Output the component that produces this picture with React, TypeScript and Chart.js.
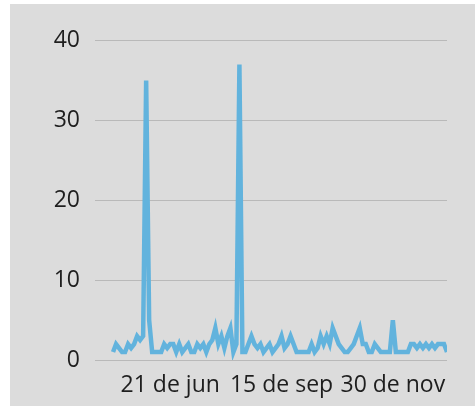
import React, { useEffect, useRef } from "react";
import { Chart, registerables } from "chart.js";

Chart.register(...registerables);

// Daily counts
const values: number[] = [
  1, 2, 1.5, 1, 1, 2, 1.5, 2, 3, 2.5,
  3, 35, 5, 1, 1, 1, 1, 2, 1.5, 2,
  2, 1, 2, 1, 1.5, 2, 1, 1, 2, 1.5,
  2, 1, 2, 2.5, 4, 2, 3, 1.5, 3, 4,
  1, 2, 37, 1, 1, 2, 3, 2, 1.5, 2,
  1, 1.5, 2, 1, 1.5, 2, 3, 1.5, 2, 3,
  2, 1, 1, 1, 1, 1, 2, 1, 1.5, 3,
  2, 3, 2, 4, 3, 2, 1.5, 1, 1, 1.5,
  2, 3, 4, 2, 2, 1, 1, 2, 1.5, 1,
  1, 1, 1, 5, 1, 1, 1, 1, 1, 2,
  2, 1.5, 2, 1.5, 2, 1.5, 2, 1.5, 2, 2,
  2, 1,
];

// Positions (point index) of the labelled days and their labels
const tickIndices: number[] = [19, 56, 93];
const tickLabels: string[] = ["21 de jun", "15 de sep", "30 de nov"];

const yTicks: number[] = [0, 10, 20, 30, 40];

const FONT = "'Open Sans', 'Noto Sans', sans-serif";

export default function App() {
  const ref = useRef<HTMLCanvasElement>(null);

  useEffect(() => {
    if (!ref.current) return;
    const chart = new Chart(ref.current, {
      type: "line",
      data: {
        datasets: [
          {
            data: values.map((v, i) => ({ x: i, y: v })),
            borderColor: "#62b3dd",
            borderWidth: 4.5,
            pointRadius: 0,
            tension: 0,
            fill: false,
          },
        ],
      },
      options: {
        animation: false,
        responsive: false,
        layout: { padding: { left: 0, right: 28, top: 36.7, bottom: 0 } },
        plugins: { legend: { display: false }, tooltip: { enabled: false } },
        scales: {
          x: {
            type: "linear",
            min: -6,
            max: values.length - 1,
            grid: { display: false, drawTicks: false },
            border: { display: false },
            afterBuildTicks: (scale: any) => {
              scale.ticks = tickIndices.map((v) => ({ value: v }));
            },
            afterFit: (scale: any) => {
              scale.height = 46;
            },
            ticks: {
              autoSkip: false,
              maxRotation: 0,
              padding: 12,
              color: "#1e1e1e",
              font: { family: FONT, size: 23 },
              callback: (v: any) => {
                const k = tickIndices.indexOf(Number(v));
                return k >= 0 ? tickLabels[k] : "";
              },
            },
          },
          y: {
            min: 0,
            max: 40,
            afterBuildTicks: (scale: any) => {
              scale.ticks = yTicks.map((v) => ({ value: v }));
            },
            afterFit: (scale: any) => {
              scale.width = 85;
            },
            grid: { color: "#b9b9b9", lineWidth: 1, drawTicks: false },
            border: { display: false },
            ticks: {
              padding: 15,
              color: "#1e1e1e",
              font: { family: FONT, size: 23 },
            },
          },
        },
      },
    });
    return () => chart.destroy();
  }, []);

  return (
    <div
      style={{
        position: "absolute",
        left: 0,
        top: 0,
        width: 475,
        height: 406,
        background: "#ffffff",
      }}
    >
      <div
        style={{
          position: "absolute",
          left: 10,
          top: 4,
          width: 465,
          height: 402,
          background: "#dcdcdc",
        }}
      >
        <canvas ref={ref} width={465} height={402} style={{ width: 465, height: 402, display: "block" }} />
      </div>
    </div>
  );
}
